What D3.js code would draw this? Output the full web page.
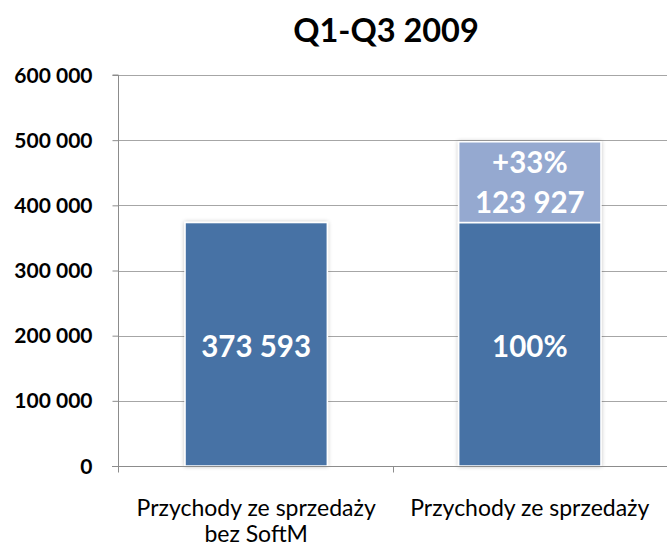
<!DOCTYPE html>
<html><head><meta charset="utf-8">
<script src="https://cdn.jsdelivr.net/npm/d3@7"></script>
<style>body{margin:0;background:#fff}</style>
</head><body>
<svg id="c" width="667" height="548"></svg>
<script>
const categories = ["Przychody ze sprzedaży\nbez SoftM", "Przychody ze sprzedaży"];
const baseValues = [373593, 373593];
const addValues = [0, 123927];
const baseLabels = ["373 593", "100%"];
const addLabels = [null, ["+33%", "123 927"]];
const yTicks = [0, 100000, 200000, 300000, 400000, 500000, 600000];
const title = "Q1-Q3 2009";

const FONT = "Lato, 'Open Sans', sans-serif";
const svg = d3.select("#c");
const L = 118, R = 668, T = 75, B = 466;
const x = d3.scaleBand().domain(categories).range([L, R]).paddingInner(0.48).paddingOuter(0.245);
const y = d3.scaleLinear().domain([0, 600000]).range([B, T]);

const defs = svg.append("defs");
const f = defs.append("filter").attr("id","sh").attr("x","-10%").attr("y","-10%").attr("width","120%").attr("height","120%");
f.append("feGaussianBlur").attr("in","SourceAlpha").attr("stdDeviation",2).attr("result","b");
f.append("feComponentTransfer").attr("in","b").attr("result","o2").append("feFuncA").attr("type","linear").attr("slope",0.25);
const m = f.append("feMerge"); m.append("feMergeNode").attr("in","o2"); m.append("feMergeNode").attr("in","SourceGraphic");

// gridlines
svg.append("g").selectAll("line").data(yTicks.filter(d=>d>0)).join("line")
  .attr("x1", L).attr("x2", R).attr("y1", d=>Math.round(y(d))+0.5).attr("y2", d=>Math.round(y(d))+0.5)
  .attr("stroke", "#a6a6a6").attr("stroke-width", 1);

// y axis
const fmt = d => d3.format(",")(d).replace(/,/g, " ");
const ya = svg.append("g").attr("transform", `translate(${L+0.5},0)`)
  .call(d3.axisLeft(y).tickValues(yTicks).tickFormat(fmt).tickSize(6).tickPadding(20));
ya.select(".domain").attr("stroke", "#8c8c8c").attr("d", `M-6,${T}H0V${B}`);
ya.selectAll(".tick line").attr("stroke", "#8c8c8c");
ya.selectAll(".tick text").attr("font-family", FONT).attr("font-weight", "bold").attr("font-size", 21).attr("fill", "#000").attr("dy","0.34em");

// bars
const g = svg.append("g");
categories.forEach((c, i) => {
  const bx = x(c), bw = x.bandwidth();
  const bg = g.append("g").attr("filter", "url(#sh)");
  bg.append("rect").attr("x", bx).attr("width", bw)
    .attr("y", y(baseValues[i])).attr("height", y(0) - y(baseValues[i]))
    .attr("fill", "#4672a5").attr("stroke", "#fff").attr("stroke-width", 1.5);
  if (addValues[i] > 0) {
    const top = baseValues[i] + addValues[i];
    bg.append("rect").attr("x", bx).attr("width", bw)
      .attr("y", y(top)).attr("height", y(baseValues[i]) - y(top))
      .attr("fill", "#95a9d0").attr("stroke", "#fff").attr("stroke-width", 1.5);
    const mid = (y(top) + y(baseValues[i])) / 2;
    addLabels[i].forEach((t, k) => {
      g.append("text").attr("x", bx + bw/2).attr("y", mid + (k === 0 ? -20 : 20))
        .attr("text-anchor", "middle").attr("dy", "0.36em")
        .attr("font-family", FONT).attr("font-weight", "bold").attr("font-size", 29.5).attr("fill", "#fff").text(t);
    });
  }
  g.append("text").attr("x", bx + bw/2).attr("y", (y(baseValues[i]) + y(0))/2 + 2)
    .attr("text-anchor", "middle").attr("dy", "0.36em")
    .attr("font-family", FONT).attr("font-weight", "bold").attr("font-size", 29.5).attr("fill", "#fff").text(baseLabels[i]);
});

// x axis
const xa = svg.append("g").attr("transform", `translate(0,${B+0.5})`);
xa.append("line").attr("x1", L - 6).attr("x2", R).attr("stroke", "#8c8c8c");
[L, L + (R-L)/2, R].forEach(t => xa.append("line").attr("x1", t+0.5).attr("x2", t+0.5).attr("y1", 0).attr("y2", 6).attr("stroke", "#8c8c8c"));
categories.forEach(c => {
  const lines = c.split("\n");
  const t = svg.append("text").attr("x", x(c) + x.bandwidth()/2).attr("y", 516)
    .attr("text-anchor", "middle").attr("font-family", FONT).attr("font-size", 23).attr("fill", "#000");
  lines.forEach((ln, k) => t.append("tspan").attr("x", x(c) + x.bandwidth()/2).attr("dy", k ? 26 : 0).text(ln));
});

svg.append("text").attr("x", 386).attr("y", 42).attr("text-anchor", "middle")
  .attr("font-family", FONT).attr("font-weight", "bold").attr("font-size", 32.5).attr("fill", "#000").text(title);
</script>
</body></html>
